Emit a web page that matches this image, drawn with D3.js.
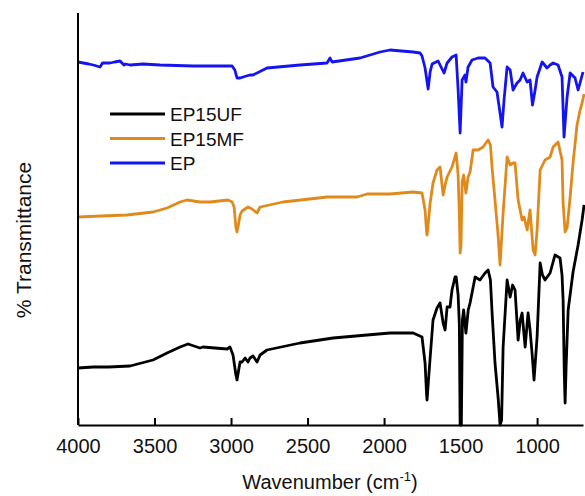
<!DOCTYPE html>
<html>
<head>
<meta charset="utf-8">
<script src="https://cdn.jsdelivr.net/npm/d3@7"></script>
<style>
html,body{margin:0;padding:0;background:#fff;}
svg{display:block;font-family:"Liberation Sans",Arial,sans-serif;}
</style>
</head>
<body>
<svg id="chart" width="585" height="496"></svg>
<script>
// Wavenumbers (cm^-1) and % transmittance (arbitrary offset units)
const seriesNames = ["EP15UF", "EP15MF", "EP"];
const seriesColors = ["#000000", "#E08A1E", "#1414F0"];
const xTicks = [4000, 3500, 3000, 2500, 2000, 1500, 1000];

const ep15uf = [
[4000,11.4],[3900,11.6],[3800,11.6],[3660,11.8],[3510,13.0],[3418,14.4],[3333,15.6],[3281,16.2],[3203,15.4],[3183,15.6],
[3026,15.2],[3007,15.6],[2987,14.0],[2968,10.0],[2961,9.0],[2950,11.0],[2941,12.6],[2928,12.6],[2908,13.4],[2889,12.6],
[2876,13.4],[2856,13.8],[2830,12.6],[2810,14.0],[2765,15.0],[2549,16.4],[2333,17.4],[2111,18.0],[1961,18.4],[1915,18.4],
[1810,18.4],[1752,17.6],[1732,12.4],[1722,6.0],[1719,5.0],[1712,8.0],[1699,13.4],[1680,21.0],[1654,23.4],[1634,24.4],
[1614,20.4],[1601,19.0],[1588,23.6],[1569,23.6],[1556,27.0],[1536,29.6],[1529,29.6],[1516,26.0],[1508,20.0],[1503,0.0],
[1495,0.0],[1488,21.0],[1480,23.0],[1465,18.4],[1450,23.0],[1438,24.4],[1405,29.6],[1373,29.0],[1340,30.4],[1320,31.0],
[1305,29.0],[1294,22.4],[1275,12.4],[1255,5.6],[1242,0.0],[1232,1.0],[1222,15.6],[1196,29.0],[1176,25.6],[1160,28.0],
[1144,27.0],[1124,17.0],[1110,21.0],[1098,22.4],[1078,15.6],[1059,22.4],[1046,19.0],[1033,14.4],[1020,9.0],[1000,17.6],
[980,32.4],[965,30.0],[948,29.0],[915,30.4],[883,34.0],[850,33.4],[837,30.0],[830,25.0],[822,10.0],[817,4.4],
[810,12.0],[797,23.0],[765,30.6],[732,36.0],[706,41.0],[693,44.0]
];

const ep15mf = [
[4000,41.6],[3850,41.8],[3680,42.0],[3510,42.6],[3418,43.4],[3333,44.6],[3288,45.0],[3203,44.6],[3137,44.6],[3020,45.0],
[2993,44.6],[2980,43.6],[2968,39.5],[2961,38.6],[2952,40.0],[2941,42.0],[2928,42.8],[2889,43.6],[2863,43.2],[2830,42.4],
[2810,43.6],[2660,44.6],[2373,45.6],[2177,45.6],[2111,46.2],[1961,46.2],[1810,46.6],[1752,46.4],[1732,43.0],[1722,38.5],
[1719,38.0],[1712,40.0],[1699,44.4],[1680,48.4],[1654,51.0],[1634,51.6],[1614,46.0],[1601,48.0],[1588,49.6],[1556,51.6],
[1529,54.4],[1516,50.0],[1508,42.0],[1503,34.4],[1497,36.0],[1490,48.6],[1480,50.0],[1465,46.4],[1451,49.6],[1438,50.6],
[1418,55.0],[1386,55.0],[1353,55.6],[1320,57.0],[1305,56.0],[1294,51.4],[1275,45.0],[1255,38.0],[1242,32.0],[1222,42.4],
[1196,53.6],[1176,52.0],[1157,52.4],[1144,52.4],[1124,45.0],[1098,41.0],[1085,41.6],[1065,39.0],[1046,43.0],[1026,35.0],
[1013,34.0],[1000,39.0],[980,51.0],[948,53.0],[915,53.6],[895,55.6],[863,56.6],[837,53.0],[830,44.4],[817,38.6],
[804,39.4],[784,45.6],[765,52.4],[739,60.0],[719,63.0],[706,64.4],[693,66.2]
];

const ep = [
[4000,72.6],[3930,72.2],[3900,72.0],[3856,71.6],[3840,72.4],[3820,72.4],[3791,72.4],[3760,72.6],[3725,72.8],[3700,72.0],
[3690,72.2],[3660,72.0],[3575,72.2],[3464,72.0],[3248,71.8],[3026,71.8],[2993,71.8],[2975,71.0],[2961,69.4],[2941,69.4],
[2900,69.8],[2876,70.0],[2856,70.0],[2765,71.4],[2549,72.0],[2373,72.4],[2353,73.4],[2340,72.6],[2157,73.4],[2026,74.6],
[1961,75.0],[1810,74.6],[1765,74.4],[1752,73.8],[1732,71.4],[1712,67.2],[1699,70.6],[1686,72.2],[1647,72.8],[1608,70.4],
[1588,72.4],[1556,73.6],[1529,74.0],[1516,67.0],[1503,58.4],[1490,69.0],[1471,70.0],[1465,68.6],[1451,71.6],[1425,73.0],
[1386,73.4],[1340,73.4],[1307,72.4],[1288,67.6],[1262,66.6],[1242,62.4],[1229,59.6],[1216,65.0],[1196,71.6],[1176,71.0],
[1157,67.0],[1131,68.4],[1111,69.0],[1092,70.4],[1065,68.6],[1046,69.0],[1030,64.0],[1013,67.0],[1000,69.6],[967,72.6],
[935,71.4],[915,72.0],[895,72.4],[863,72.0],[837,69.6],[824,57.6],[804,65.6],[784,70.4],[752,69.4],[732,67.0],[700,70.6]
];

const seriesData = [ep15uf, ep15mf, ep];

const svg = d3.select("#chart");
const x = d3.scaleLinear().domain([4000, 700]).range([78, 583]);
const y = d3.scaleLinear().domain([0, 82]).range([425, 15]);

// series
const line = d3.line().x(d => x(d[0])).y(d => y(d[1]));
seriesData.forEach((data, i) => {
  svg.append("path")
    .datum(data)
    .attr("fill", "none")
    .attr("stroke", seriesColors[i])
    .attr("stroke-width", 2.8)
    .attr("stroke-linejoin", "round")
    .attr("d", line);
});

// x axis
const xAxis = d3.axisBottom(x).tickValues(xTicks).tickFormat(d3.format("d"))
  .tickSizeInner(-7).tickSizeOuter(0).tickPadding(14);
const gx = svg.append("g").attr("transform", "translate(0,425)").call(xAxis);
gx.select(".domain").attr("stroke", "#000").attr("stroke-width", 2);
gx.selectAll(".tick line").attr("stroke", "#000").attr("stroke-width", 2);
gx.selectAll(".tick text").attr("font-size", 20).attr("fill", "#111").attr("font-family", "Liberation Sans, Arial, sans-serif");

// y axis (no ticks)
const yAxis = d3.axisLeft(y).tickValues([]).tickSizeOuter(0);
const gy = svg.append("g").attr("transform", "translate(78,0)").call(yAxis);
gy.select(".domain").attr("stroke", "#000").attr("stroke-width", 2).attr("d", "M0,13V425");

// axis titles
const xt = svg.append("text").attr("x", 330).attr("y", 489).attr("text-anchor", "middle")
  .attr("font-size", 20).attr("fill", "#111");
xt.append("tspan").text("Wavenumber (cm");
xt.append("tspan").attr("font-size", 13).attr("dy", -8).text("-1");
xt.append("tspan").attr("dy", 8).text(")");

svg.append("text").attr("transform", "translate(31,240) rotate(-90)").attr("text-anchor", "middle")
  .attr("font-size", 21).attr("fill", "#111").text("% Transmittance");

// legend
const legend = svg.append("g");
seriesNames.forEach((name, i) => {
  const ly = 114 + i * 24.5;
  legend.append("line").attr("x1", 110).attr("x2", 165).attr("y1", ly).attr("y2", ly)
    .attr("stroke", seriesColors[i]).attr("stroke-width", 3);
  legend.append("text").attr("x", 170).attr("y", ly + 7).attr("font-size", 19).attr("fill", "#111").text(name);
});
</script>
</body>
</html>
